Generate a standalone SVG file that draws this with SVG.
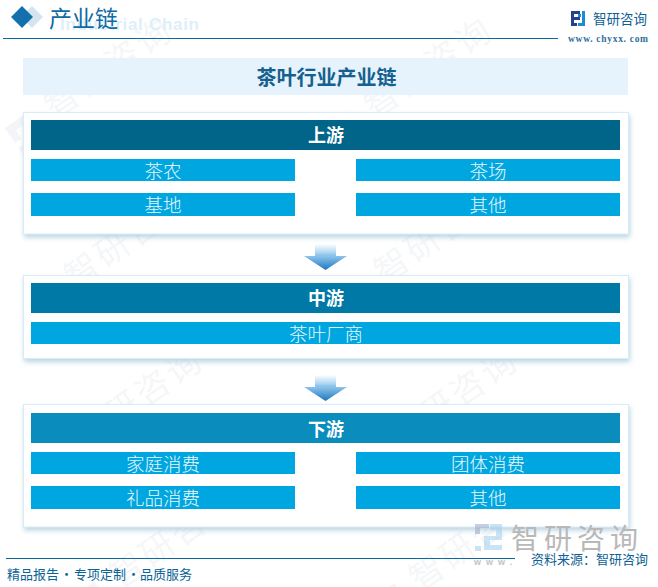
<svg xmlns="http://www.w3.org/2000/svg" width="658" height="587" viewBox="0 0 658 587">
<defs>
<linearGradient id="shaft" x1="0" y1="0" x2="0" y2="1"><stop offset="0" stop-color="#ffffff"/><stop offset="0.6" stop-color="#b5daf3"/><stop offset="1" stop-color="#7ab8e6"/></linearGradient>
<linearGradient id="head" x1="0" y1="0" x2="0" y2="1"><stop offset="0" stop-color="#8cc4ec"/><stop offset="1" stop-color="#1f76bd"/></linearGradient>
<filter id="sh" x="-5%" y="-10%" width="110%" height="125%"><feDropShadow dx="1" dy="3" stdDeviation="2.500" flood-color="#9fc3d8" flood-opacity="0.7"/></filter>
<g id="wm" opacity="0.4"><text class="wmt" x="0" y="0">智研咨询</text><path d="M-46 -22h30v8h-22v10h-8zM-30 -8h14v8h-14zM-46 2h8v8h-8z" fill="#e3e8ee"/></g>
<g id="arrow"><rect x="-10.500" y="-1" width="21" height="13" fill="url(#shaft)"/><path d="M-21.500 11H21.500L0 25Z" fill="url(#head)"/></g>
</defs>
<style>
.cjk{font-family:"Noto Sans CJK SC",sans-serif}
.wmt{font-family:"Noto Sans CJK SC",sans-serif;font-size:34px;fill:#e6e9ee;letter-spacing:3px}
.panel{fill:#fff;stroke:#d8ecf8;stroke-width:1;filter:url(#sh)}
.row{fill:#00a6df}
.rt{font-family:"Noto Sans CJK SC",sans-serif;font-size:18.500px;font-weight:300;fill:#e9f7fd;text-anchor:middle}
.ht{font-family:"Noto Sans CJK SC",sans-serif;font-size:18px;font-weight:700;fill:#fff;text-anchor:middle}
.ft{font-family:"Noto Sans CJK SC",sans-serif;font-size:13px;fill:#0a6396}
</style>
<rect width="658" height="587" fill="#fff"/>
<g id="watermarks">
<use href="#wm" transform="translate(55 120) rotate(-35)"/>
<use href="#wm" transform="translate(375 120) rotate(-35)"/>
<use href="#wm" transform="translate(75 290) rotate(-35)"/>
<use href="#wm" transform="translate(385 285) rotate(-35)"/>
<use href="#wm" transform="translate(85 450) rotate(-35)"/>
<use href="#wm" transform="translate(400 450) rotate(-35)"/>
<use href="#wm" transform="translate(120 590) rotate(-35)"/>
<use href="#wm" transform="translate(420 592) rotate(-35)"/>
</g>
<g id="header">
<path d="M32 6 43 17 32 28 21 17Z" fill="#d5e5f0"/>
<path d="M22 6 33 17 22 28 11 17Z" fill="#1470ad"/>
<text x="60" y="30" font-family="Liberation Sans,sans-serif" font-size="17" font-weight="700" fill="#deeffa" textLength="139">Industrial Chain</text>
<text class="cjk" x="49" y="27" font-size="23" fill="#0f6aa5">产业链</text>
<path d="M3 38.500H558" stroke="#0a6aa0" stroke-width="1.200"/>
<g id="logo-top">
<path d="M571 11h9v3h-6v3h6v3h-6v3h3v3h-6z" fill="#25408f"/>
<path d="M582 11h3v12h-3zM578 14h3v3h-3zM578 23h7v3h-7z" fill="#1f8ad0"/>
</g>
<text class="cjk" x="593" y="24" font-size="13.500" fill="#0f5f96">智研咨询</text>
<text x="568" y="42" font-family="Liberation Serif,serif" font-size="9.500" font-weight="700" fill="#2f6f9c" textLength="80">www. chyxx. com</text>
</g>
<g id="title">
<rect x="23" y="58" width="605" height="37" fill="#e6f3fc"/>
<text class="cjk" x="326.500" y="85" font-size="20" font-weight="700" fill="#15608f" text-anchor="middle">茶叶行业产业链</text>
</g>
<g id="upstream">
<rect class="panel" x="23.500" y="112.500" width="605" height="121.500"/>
<rect x="31" y="120" width="589" height="30" fill="#006589"/>
<text class="ht" x="326" y="142">上游</text>
<rect class="row" x="31" y="159" width="264" height="22"/><text class="rt" x="163" y="178">茶农</text>
<rect class="row" x="356" y="159" width="264" height="22"/><text class="rt" x="488" y="178">茶场</text>
<rect class="row" x="31" y="193" width="264" height="23"/><text class="rt" x="163" y="212">基地</text>
<rect class="row" x="356" y="193" width="264" height="23"/><text class="rt" x="488" y="212">其他</text>
</g>
<g id="midstream">
<rect class="panel" x="23.500" y="275.500" width="605" height="83"/>
<rect x="31" y="283" width="589" height="30" fill="#0079a6"/>
<text class="ht" x="326" y="305">中游</text>
<rect class="row" x="31" y="322" width="589" height="22"/><text class="rt" x="326" y="341">茶叶厂商</text>
</g>
<g id="downstream">
<rect class="panel" x="23.500" y="404.500" width="605" height="122.500"/>
<rect x="31" y="413" width="589" height="30" fill="#0a8dbc"/>
<text class="ht" x="326" y="436">下游</text>
<rect class="row" x="31" y="452" width="264" height="22"/><text class="rt" x="163" y="471">家庭消费</text>
<rect class="row" x="356" y="452" width="264" height="22"/><text class="rt" x="488" y="471">团体消费</text>
<rect class="row" x="31" y="486" width="264" height="23"/><text class="rt" x="163" y="505">礼品消费</text>
<rect class="row" x="356" y="486" width="264" height="23"/><text class="rt" x="488" y="505">其他</text>
</g>
<g id="connectors">
<use href="#arrow" transform="translate(325.500 245)"/>
<use href="#arrow" transform="translate(325.500 376)"/>
</g>
<g id="footer">
<g id="logo-bottom" opacity="0.6">
<path d="M475 524h14v4h-9v6h-5z" fill="#9fb0cf"/>
<path d="M475 546h6v5h-6z" fill="#a7d3ef"/>
<path d="M490 524h12v16h-12v5h12v5h-18v-14h12v-6h-6z" fill="#a7d3ef"/>
</g>
<text class="cjk" x="511" y="549" font-size="28" fill="#b8b8b8" letter-spacing="5">智研咨询</text>
<text x="474" y="565" font-family="Liberation Sans,sans-serif" font-size="9" font-weight="700" fill="#c4c4c4" letter-spacing="5">www.</text>
<path d="M6 558.500H515" stroke="#0a6aa0" stroke-width="1"/>
<text class="cjk" x="531" y="564" font-size="13" fill="#0f5f96">资料来源：智研咨询</text>
<text class="ft" y="579"><tspan x="7">精品报告</tspan><tspan x="60">·</tspan><tspan x="74">专项定制</tspan><tspan x="127">·</tspan><tspan x="140">品质服务</tspan></text>
</g>
</svg>
